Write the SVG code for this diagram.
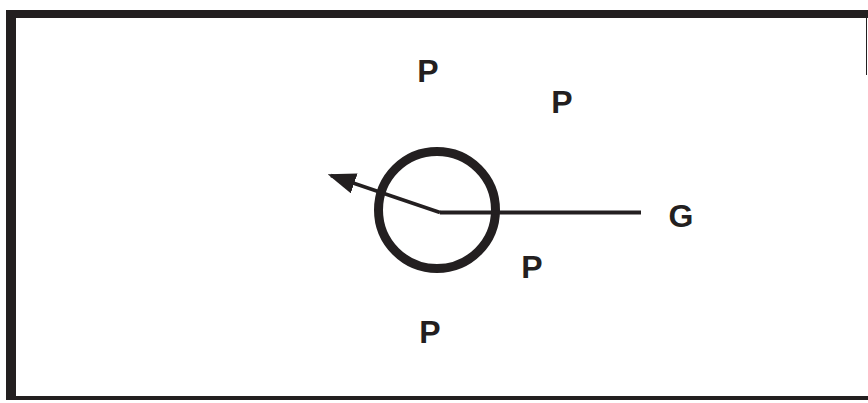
<svg xmlns="http://www.w3.org/2000/svg" width="868" height="403" viewBox="0 0 868 403">
<style>
.lbl{font-family:"Liberation Sans",Arial,sans-serif;font-weight:bold;font-size:32px;fill:#231f20;text-anchor:middle}
.ln{stroke:#231f20;fill:none}
</style>
<defs>
<marker id="ah" markerWidth="8" markerHeight="6" refX="7" refY="3" orient="auto" markerUnits="strokeWidth">
<path d="M0,0 L8,3 L0,6 Z" fill="#231f20"/>
</marker>
</defs>
<rect width="868" height="403" fill="#fff"/>
<g id="frame">
<rect x="6" y="10" width="862" height="8" fill="#231f20"/>
<rect x="6" y="10" width="10" height="390" fill="#231f20"/>
<rect x="6" y="396" width="862" height="4" fill="#231f20"/>
<line class="ln" x1="866.5" y1="18" x2="866.5" y2="75" stroke-width="1"/>
</g>
<g id="circle">
<circle cx="437" cy="210" r="58.5" class="ln" stroke-width="9"/>
</g>
<g id="connectors">
<line class="ln" x1="440" y1="212.5" x2="641" y2="212.5" stroke-width="4"/>
<line class="ln" x1="440" y1="212.5" x2="331" y2="175.5" stroke-width="3.5" marker-end="url(#ah)"/>
</g>
<g id="P1"><text class="lbl" x="428" y="82">P</text></g>
<g id="P2"><text class="lbl" x="562" y="113">P</text></g>
<g id="P3"><text class="lbl" x="532" y="278">P</text></g>
<g id="P4"><text class="lbl" x="430" y="343">P</text></g>
<g id="G"><text class="lbl" x="681" y="227">G</text></g>
</svg>
